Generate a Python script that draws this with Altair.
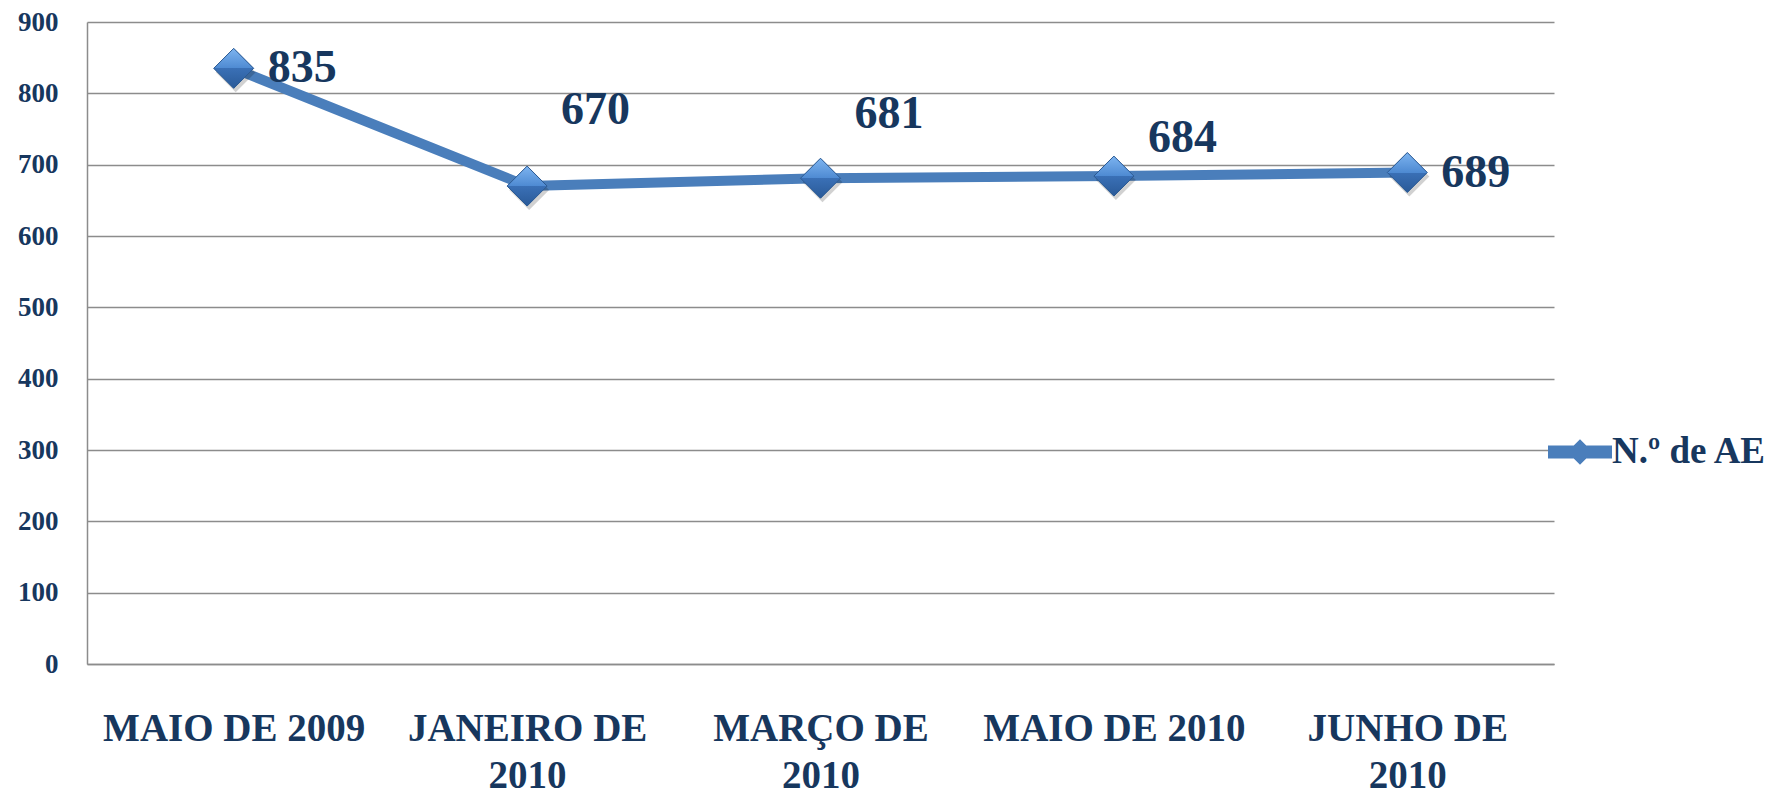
import altair as alt
import pandas as pd

# ---- data ----
categories = ["Maio de 2009", "Janeiro de 2010", "Março de 2010", "Maio de 2010", "Junho de 2010"]
values = [835, 670, 681, 684, 689]
series_name = "N.º de AE"
y_ticks = [0, 100, 200, 300, 400, 500, 600, 700, 800, 900]

df = pd.DataFrame({
    "periodo": categories,
    "valor": values,
    "serie": [series_name] * len(categories),
})

# ---- styles ----
NAVY = "#17375E"
BLUE = "#4A7EBB"
GRID = "#8C8C8C"
FONT = "Liberation Serif"

# label offsets (style, per category)
label_dy = {
    "Maio de 2009": 0,
    "Janeiro de 2010": -76,
    "Março de 2010": -64,
    "Maio de 2010": -38,
    "Junho de 2010": 0,
}

x_enc = alt.X(
    "periodo:N",
    sort=categories,
    scale=alt.Scale(type="point", padding=0.5),
    axis=alt.Axis(
        title=None,
        labelAngle=0,
        labelFont=FONT,
        labelFontSize=39,
        labelFontWeight="bold",
        labelColor=NAVY,
        labelBaseline="top",
        labelPadding=45,
        labelLineHeight=47,
        labelLimit=0,
        labelOverlap=False,
        labelExpr="length(datum.label) > 12 ? [upper(slice(datum.label, 0, lastindexof(datum.label, ' '))), slice(datum.label, lastindexof(datum.label, ' ') + 1)] : upper(datum.label)",
        ticks=False,
        grid=False,
        domainColor=GRID,
        domainWidth=1.5,
    ),
)

y_enc = alt.Y(
    "valor:Q",
    scale=alt.Scale(domain=[0, 900], nice=False),
    axis=alt.Axis(
        title=None,
        values=y_ticks,
        labelFont=FONT,
        labelFontSize=27,
        labelFontWeight="bold",
        labelColor=NAVY,
        labelPadding=29,
        ticks=False,
        grid=True,
        gridColor=GRID,
        gridWidth=1.5,
        domainColor=GRID,
        domainWidth=1.5,
    ),
)

base = alt.Chart(df)

line = base.mark_line(color=BLUE, strokeWidth=10, strokeJoin="round").encode(x=x_enc, y=y_enc)

shadow = base.mark_point(
    shape="diamond", size=1600, filled=True, color="#000000", opacity=0.18
).encode(x=x_enc, y=y_enc, xOffset=alt.value(2), yOffset=alt.value(4))

legend_path = "M-1,-0.2L1,-0.2L1,0.2L-1,0.2Z M0,-0.4L0.4,0L0,0.4L-0.4,0Z"

# flat diamonds that also carry the legend
points_flat = base.mark_point(
    shape="diamond", size=1600, filled=True, opacity=1, strokeWidth=0
).encode(
    x=x_enc,
    y=y_enc,
    color=alt.Color(
        "serie:N",
        scale=alt.Scale(range=[BLUE]),
        legend=alt.Legend(
            title=None,
            orient="none",
            legendX=1461,
            legendY=398,
            padding=0,
            symbolType=legend_path,
            symbolSize=4096,
            symbolStrokeWidth=0,
            symbolOpacity=1,
            labelFont=FONT,
            labelFontSize=37,
            labelFontWeight="bold",
            labelColor=NAVY,
            labelOffset=0,
            labelLimit=0,
        ),
    ),
)

grad = alt.LinearGradient(
    gradient="linear",
    x1=0, x2=0, y1=0, y2=1,
    stops=[
        alt.GradientStop(color="#7DB4F0", offset=0),
        alt.GradientStop(color="#4E8AD2", offset=0.5),
        alt.GradientStop(color="#3A70B6", offset=0.5),
        alt.GradientStop(color="#2A5A98", offset=1),
    ],
)

# shaded diamonds on top
points = base.mark_point(
    shape="diamond", size=1600, filled=True, opacity=1, fill=grad, stroke="#2C5A92", strokeWidth=1
).encode(x=x_enc, y=y_enc)

texts = []
for cat in categories:
    texts.append(
        base.transform_filter(alt.datum.periodo == cat)
        .mark_text(
            align="left",
            baseline="middle",
            dx=34,
            dy=label_dy[cat],
            font=FONT,
            fontSize=46,
            fontWeight="bold",
            color=NAVY,
        )
        .encode(x=x_enc, y=y_enc, text="valor:Q")
    )

chart = (
    alt.layer(line, shadow, points_flat, points, *texts)
    .properties(
        width=1467,
        height=642,
        autosize=alt.AutoSizeParams(type="none"),
        padding={"left": 79, "top": 14, "right": 229, "bottom": 131},
        background="white",
    )
    .configure_view(stroke=None)
)

chart.save("out.html", embed_options={"renderer": "svg", "actions": False})
